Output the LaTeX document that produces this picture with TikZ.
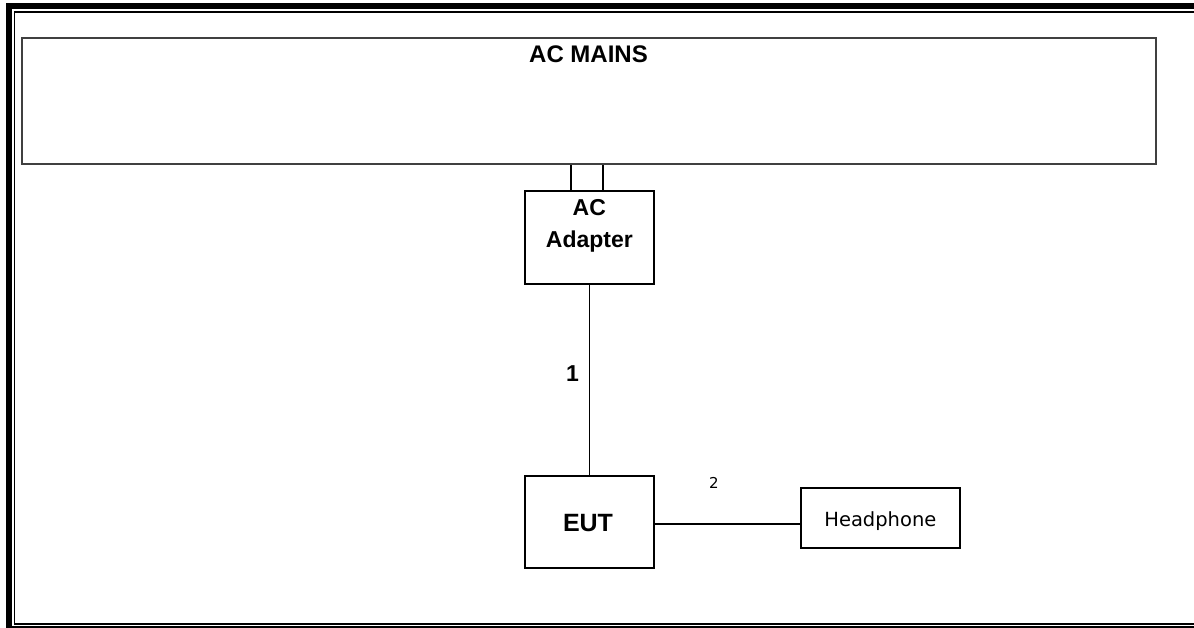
\documentclass[tikz,border=0pt]{standalone}
\usepackage{fontspec}
\setmainfont{Liberation Sans}
\newfontfamily\labelfont{DejaVu Sans}
\begin{document}
\begin{tikzpicture}[x=1pt,y=-1pt,
  box/.style={draw=black,line width=1.7pt,rectangle,inner sep=0pt,anchor=north west},
  wire/.style={draw=black,line width=1.7pt},
  bigtxt/.style={font=\fontsize{23}{26}\selectfont\bfseries,inner sep=0pt,align=center},
  smalltxt/.style={font=\labelfont\fontsize{19.5}{21}\selectfont,inner sep=0pt}]
\useasboundingbox (0,0) rectangle (1194,628);
% page frame
\draw[line width=6pt] (1194,6.5) -- (9,6.5) -- (9,628);
\draw[line width=1.8pt] (1194,11.8) -- (14.5,11.8) -- (14.5,624.3) -- (1194,624.3);
\draw[line width=1.8pt] (9,627.2) -- (1194,627.2);
% boxes
\node[box,draw=black!75,line width=2pt,minimum width=1134pt,minimum height=126pt] (mains) at (21,37.5) {};
\node[bigtxt,font=\fontsize{24}{26}\selectfont\bfseries] (mainstxt) at (588.5,54) {AC MAINS};
\node[box,minimum width=129pt,minimum height=93pt] (adapter) at (524,190) {};
\node[bigtxt,anchor=north,font=\fontsize{23}{32}\selectfont\bfseries] (adaptertxt) at ([yshift=-9pt]adapter.north) {AC\\Adapter};
\node[box,minimum width=129pt,minimum height=92pt] (eut) at (524,475) {};
\node[bigtxt,font=\fontsize{25}{28}\selectfont\bfseries] (euttxt) at (588,523) {EUT};
\node[box,minimum width=159pt,minimum height=60pt] (hp) at (800,487) {};
\node[smalltxt] (hptxt) at ([yshift=-3pt]hp.center) {Headphone};
% connectors
\draw[wire] ([xshift=-18.5pt]adapter.north) -- ([xshift=-18.5pt]adapter.north |- mains.south);
\draw[wire] ([xshift=13.5pt]adapter.north) -- ([xshift=13.5pt]adapter.north |- mains.south);
\draw[wire] (adapter.south) -- (eut.north);
\draw[wire] ([yshift=-2pt]eut.east) -- ([yshift=-2pt]eut.east -| hp.west);
% cable labels
\node[font=\fontsize{23}{25}\selectfont\bfseries,inner sep=0pt] (l1) at (572.5,373.5) {1};
\node[font=\labelfont\fontsize{15}{17}\selectfont,inner sep=0pt] (l2) at (714,483) {2};
\end{tikzpicture}
\end{document}
